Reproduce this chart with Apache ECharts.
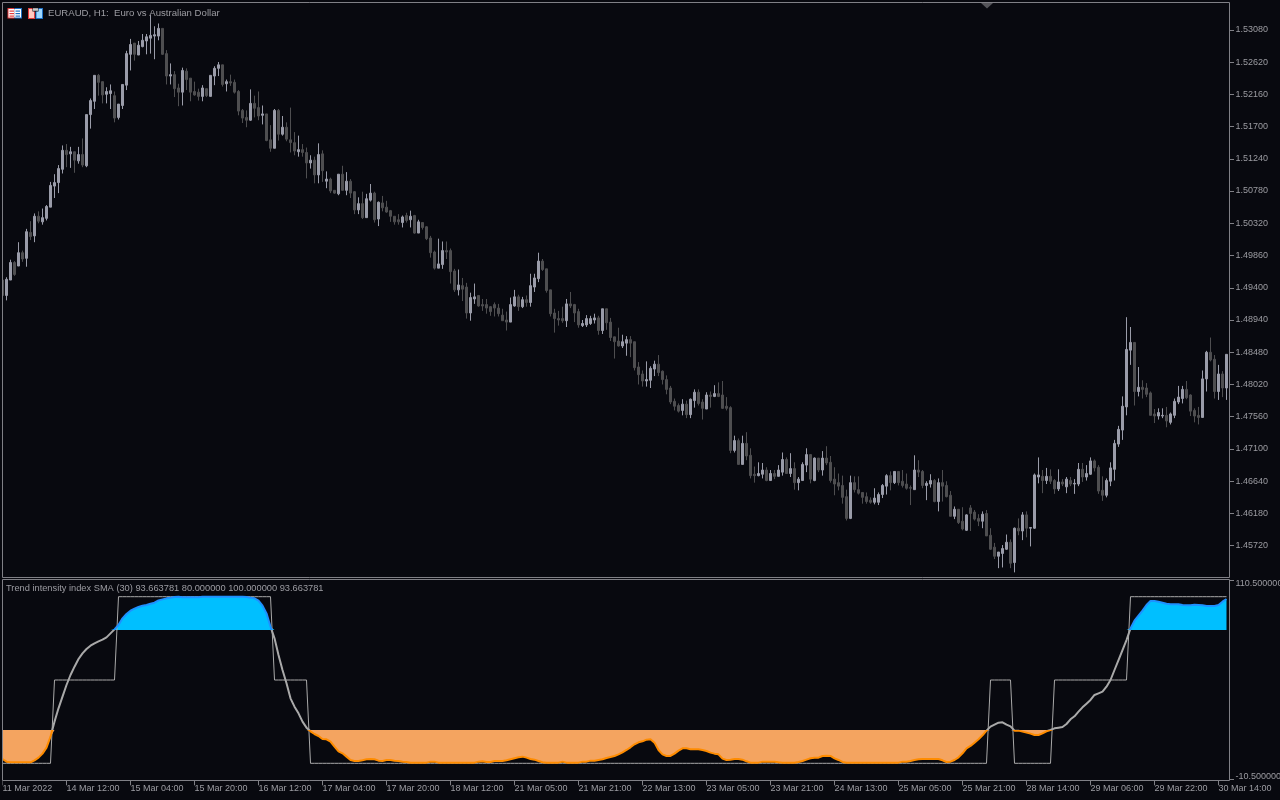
<!DOCTYPE html>
<html><head><meta charset="utf-8"><style>html,body{margin:0;padding:0;background:#08090f}#c{width:1280px;height:800px}</style>
<script src="https://cdn.jsdelivr.net/npm/echarts@6/dist/echarts.min.js"></script></head><body><div id="c"></div>
<script>
// prices in 1/10000 units
const openPips=[14951,14929,14951,14976,14971,14990,14982,15019,15014,15042,
15034,15039,15055,15085,15090,15109,15136,15131,15134,15121,
15130,15114,15187,15206,15243,15234,15216,15217,15214,15183,
15200,15229,15273,15289,15272,15284,15292,15296,15299,15299,
15310,15274,15242,15244,15225,15219,15249,15239,15220,15219,
15213,15224,15213,15242,15253,15258,15231,15234,15233,15220,
15193,15183,15179,15203,15197,15186,15188,15151,15139,15193,
15159,15169,15151,15147,15134,15137,15133,15118,15122,15101,
15131,15092,15095,15079,15074,15102,15079,15092,15077,15051,
15060,15040,15065,15075,15038,15061,15055,15050,15042,15037,
15033,15043,15037,15043,15018,15033,15027,15011,14991,14968,
14973,14993,14993,14964,14937,14943,14941,14904,14924,14929,
14916,14916,14913,14916,14911,14901,14894,14891,14914,14927,
14913,14923,14919,14941,14953,14978,14967,14937,14904,14896,
14896,14893,14917,14916,14906,14886,14887,14889,14894,14897,
14879,14910,14891,14870,14864,14857,14861,14866,14863,14827,
14817,14807,14808,14824,14831,14821,14809,14797,14778,14772,
14765,14774,14759,14779,14791,14777,14767,14787,14785,14789,
14787,14771,14769,14708,14722,14688,14718,14701,14674,14672,
14674,14680,14665,14675,14671,14677,14695,14675,14682,14662,
14665,14687,14702,14665,14697,14680,14697,14691,14667,14662,
14658,14642,14611,14662,14652,14648,14642,14637,14634,14634,
14645,14657,14672,14662,14678,14664,14660,14655,14652,14680,
14678,14658,14660,14665,14635,14662,14658,14644,14614,14624,
14607,14594,14626,14620,14611,14607,14618,14587,14570,14557,
14561,14567,14577,14548,14597,14593,14616,14597,14597,14670,
14671,14665,14671,14665,14653,14663,14656,14665,14660,14660,
14681,14670,14674,14693,14684,14651,14644,14664,14681,14717,
14737,14770,14851,14862,14792,14798,14797,14790,14760,14757,
14757,14758,14748,14758,14777,14782,14795,14787,14765,14758,
14755,14810,14848,14838,14792,14817,14797];
const closePips=[14929,14952,14976,14959,14990,14981,15020,15013,15042,15035,
15040,15056,15086,15090,15110,15136,15130,15134,15122,15130,
15115,15187,15207,15243,15233,15215,15220,15221,15182,15202,
15230,15274,15287,15273,15286,15293,15298,15300,15301,15310,
15273,15242,15244,15224,15219,15250,15237,15219,15215,15213,
15225,15214,15243,15253,15258,15230,15234,15232,15219,15192,
15182,15179,15203,15196,15185,15188,15150,15139,15193,15159,
15169,15152,15147,15135,15137,15133,15118,15122,15101,15130,
15107,15095,15078,15075,15102,15079,15092,15075,15051,15060,
15040,15067,15075,15037,15062,15054,15048,15042,15034,15034,
15041,15036,15042,15018,15034,15026,15010,14990,14968,14974,
14993,14991,14963,14937,14944,14938,14904,14926,14927,14914,
14914,14911,14906,14911,14903,14893,14891,14916,14927,14913,
14923,14919,14943,14954,14978,14966,14936,14903,14896,14894,
14893,14917,14914,14904,14887,14889,14896,14896,14897,14879,
14910,14890,14869,14863,14857,14863,14866,14861,14826,14816,
14807,14809,14825,14831,14819,14809,14795,14777,14771,14764,
14774,14759,14781,14791,14775,14768,14787,14785,14789,14785,
14768,14768,14708,14722,14688,14718,14700,14672,14672,14675,
14680,14665,14675,14671,14680,14695,14675,14682,14662,14667,
14688,14702,14667,14697,14680,14697,14690,14665,14660,14657,
14641,14611,14662,14652,14647,14641,14635,14634,14640,14645,
14658,14672,14662,14678,14662,14658,14654,14654,14680,14677,
14658,14661,14665,14635,14662,14657,14642,14614,14624,14605,
14596,14616,14618,14610,14607,14617,14586,14567,14557,14563,
14568,14577,14547,14597,14593,14616,14597,14598,14673,14673,
14665,14671,14664,14653,14663,14660,14667,14660,14661,14681,
14670,14675,14693,14683,14650,14644,14665,14683,14718,14738,
14771,14852,14862,14792,14798,14795,14788,14758,14757,14762,
14758,14750,14760,14778,14784,14795,14783,14764,14757,14755,
14810,14848,14837,14792,14817,14797,14845];
const lowPips=[14922,14922,14951,14957,14971,14977,14970,15008,15005,15032,
15030,15036,15055,15068,15075,15103,15112,15111,15104,15117,
15112,15112,15167,15195,15214,15203,15203,15195,15176,15180,
15195,15222,15250,15264,15272,15283,15273,15274,15266,15293,
15272,15230,15230,15212,15199,15200,15222,15206,15214,15207,
15206,15212,15213,15229,15242,15227,15220,15228,15217,15186,
15175,15169,15178,15183,15179,15173,15149,15134,15139,15150,
15157,15149,15133,15129,15127,15127,15096,15110,15089,15089,
15091,15082,15075,15074,15072,15079,15072,15068,15045,15045,
15038,15040,15063,15033,15028,15049,15047,15034,15030,15030,
15026,15033,15026,15017,15018,15023,15008,14983,14966,14968,
14967,14981,14946,14934,14929,14921,14896,14893,14917,14913,
14907,14903,14900,14899,14899,14893,14879,14891,14913,14907,
14911,14913,14913,14934,14948,14964,14933,14899,14876,14886,
14890,14884,14911,14891,14883,14884,14884,14887,14889,14873,
14874,14880,14864,14839,14856,14854,14843,14841,14822,14802,
14799,14799,14797,14814,14814,14802,14788,14774,14765,14762,
14758,14754,14754,14769,14772,14752,14767,14769,14784,14784,
14767,14765,14704,14705,14688,14688,14694,14668,14662,14671,
14668,14664,14665,14667,14671,14672,14675,14670,14652,14651,
14665,14677,14661,14664,14677,14672,14687,14662,14644,14651,
14632,14608,14610,14648,14645,14632,14632,14632,14631,14630,
14640,14645,14651,14660,14658,14655,14652,14630,14652,14670,
14654,14637,14655,14634,14621,14635,14641,14614,14610,14603,
14594,14593,14593,14608,14600,14597,14586,14566,14553,14540,
14541,14566,14540,14534,14587,14580,14584,14571,14596,14661,
14647,14660,14660,14646,14650,14657,14647,14657,14646,14657,
14663,14665,14673,14678,14646,14636,14641,14657,14665,14713,
14723,14758,14830,14772,14785,14782,14784,14758,14747,14752,
14754,14741,14745,14754,14774,14775,14781,14757,14748,14745,
14755,14792,14835,14782,14780,14784,14780];
const highPips=[14951,14955,14980,14978,15005,14993,15024,15035,15046,15049,
15053,15058,15091,15102,15115,15143,15145,15141,15134,15141,
15153,15187,15210,15243,15245,15234,15226,15230,15220,15202,
15230,15278,15295,15289,15292,15302,15302,15329,15313,15317,
15310,15279,15260,15249,15231,15254,15253,15239,15234,15224,
15229,15224,15243,15256,15262,15258,15237,15244,15237,15222,
15195,15193,15223,15214,15220,15200,15188,15172,15195,15195,
15185,15176,15197,15162,15157,15145,15140,15129,15127,15146,
15136,15106,15097,15079,15102,15114,15105,15095,15078,15069,
15077,15074,15088,15077,15063,15071,15064,15051,15042,15045,
15043,15047,15050,15044,15037,15033,15028,15014,14993,15010,
15006,15006,14996,14967,14966,14954,14947,14933,14946,14929,
14924,14924,14914,14919,14917,14910,14906,14926,14937,14930,
14927,14929,14960,14960,14990,14981,14967,14937,14910,14907,
14913,14924,14934,14917,14910,14894,14901,14900,14903,14900,
14910,14910,14897,14870,14883,14873,14871,14871,14863,14834,
14822,14835,14828,14836,14844,14822,14815,14800,14782,14775,
14781,14779,14782,14795,14795,14781,14791,14792,14801,14805,
14807,14784,14771,14729,14725,14729,14734,14711,14685,14691,
14690,14684,14680,14680,14687,14705,14698,14704,14691,14670,
14691,14711,14702,14698,14697,14707,14714,14700,14684,14675,
14672,14652,14672,14671,14671,14648,14648,14641,14654,14648,
14660,14674,14678,14678,14678,14680,14675,14658,14701,14694,
14680,14664,14674,14667,14668,14680,14664,14650,14628,14624,
14627,14617,14630,14623,14617,14621,14623,14597,14576,14563,
14573,14588,14581,14598,14611,14620,14621,14598,14675,14698,
14680,14683,14681,14667,14681,14667,14670,14670,14667,14690,
14690,14687,14698,14695,14687,14671,14668,14691,14723,14743,
14785,14898,14884,14862,14827,14808,14804,14792,14767,14768,
14768,14770,14762,14782,14800,14800,14807,14788,14768,14770,
14822,14850,14869,14844,14830,14821,14845];
const tii=[2.6,1,.6,.6,.6,.6,.6,.6,1.8,3.4,
5.8,9.4,16,25,33,40,47,53,58,62.6,
66,68.6,70.6,72,73.2,74.2,75.6,78,80.4,83,
87,89.6,91.6,92.8,93.8,94.6,95,95.8,96.4,97.8,
98.4,99,99.4,99.8,100,99.6,99.6,99.6,99.6,99.6,
100,100,100,100,100,100,100,100,100,100,
100,99.8,99.4,99,97.6,94.6,90,82,75,65,
56,48,39,34,30,25,21.4,19.2,17.6,16.4,
14.6,14.4,13,10,7.2,6,4,2,1.4,1.4,
1.8,2.4,2.6,2.4,1.6,1.4,2,2,1.6,1.4,
1,.8,.4,.4,.4,.4,.4,1,1,.4,
.4,.4,.4,.4,.4,.4,.4,.4,.4,1,
1.2,.8,.8,1.4,1.4,1.4,1.8,2.4,3,3.6,
4,3.4,2.6,2.2,1.4,.6,.4,.4,.4,.4,
1,.4,.4,.4,.4,1,1,1.6,1.6,2,
2.4,3.2,3.8,4.4,5.4,6.6,8,9.6,11.4,12.6,
13.2,14.2,14.4,12.4,8,5.4,4.4,4.4,5.8,7.6,
9,9,8.4,8.4,8.4,8,7.4,6.4,5.8,5.4,
2.8,2,2.2,2.6,2.6,2.2,1.2,.4,.4,.4,
1,1,1,1,.6,.4,.4,.4,.4,.8,
1.4,2.2,3,3.4,3.4,4.4,4.6,4.4,3,2,
.8,.4,.4,.4,.4,.4,.4,.4,.4,.4,
.4,.4,.4,.4,.4,1,1,1.4,2,2.4,
2.6,2.6,2.6,2.6,2.6,1.8,.8,1,2,3.6,
6,9,10.4,12.4,14.4,16.8,19.6,22,23.2,24.4,
24.6,23.2,22.2,19.6,19.6,19,18.4,17.8,17,17,
18,19.2,20,21,21.4,21.8,23.6,26.4,28.2,31,
33.6,35.8,38,41,42,43,46,50,56,62,
68,74,81,85.6,88.6,91.6,95,97.4,97.4,97,
96.4,95.8,95.4,95.4,95.4,95,94.8,94.8,95.2,95,
94.8,94.4,94.4,94.4,95,97,98.6];
const stateRuns=[[0,13],[50,16],[100,39],[50,9],[0,170],[50,6],[0,10],[50,19],[100,25]];
const tickLabels=['11 Mar 2022','14 Mar 12:00','15 Mar 04:00','15 Mar 20:00','16 Mar 12:00','17 Mar 04:00','17 Mar 20:00','18 Mar 12:00','21 Mar 05:00','21 Mar 21:00','22 Mar 13:00','23 Mar 05:00','23 Mar 21:00','24 Mar 13:00','25 Mar 05:00','25 Mar 21:00','28 Mar 14:00','29 Mar 06:00','29 Mar 22:00','30 Mar 14:00'];
const priceTicks=[1.53080,1.52620,1.52160,1.51700,1.51240,1.50780,1.50320,1.49860,1.49400,1.48940,1.48480,1.48020,1.47560,1.47100,1.46640,1.46180,1.45720];
const tiiLabels=[-10.5,110.5];
const tiiTicks=[-9.6,109.8];
const titleMain='EURAUD, H1:  Euro vs Australian Dollar';
const titleSub='Trend intensity index SMA (30) 93.663781 80.000000 100.000000 93.663781';
const LOW_LEVEL=20, HIGH_LEVEL=80;

const BG='#08090f', AX='#808086', TXT='#9c9ca2', BULL='#9a9ca9', BEAR='#4e4e50';
const FONT='"Liberation Sans",Arial,sans-serif';
const cats=openPips.map((_,i)=>String(i));
const candles=openPips.map((o,i)=>[o/1e4,closePips[i]/1e4,lowPips[i]/1e4,highPips[i]/1e4]);
const state=stateRuns.flatMap(([v,n])=>Array(n).fill(v));
const blue=tii.map(v=>Math.max(v,HIGH_LEVEL));
const orange=tii.map(v=>Math.min(v,LOW_LEVEL));
const r=(x,y,w,h,fill)=>({type:'rect',silent:true,z:110,shape:{x,y,width:w,height:h},style:{fill}});
const chart=echarts.init(document.getElementById('c'),null,{renderer:'canvas'});
chart.setOption({
 animation:false,backgroundColor:BG,
 textStyle:{fontFamily:FONT},
 title:[
  {text:titleMain,left:48,top:8,padding:0,textStyle:{color:TXT,fontSize:9.6,fontWeight:'normal',fontFamily:FONT}},
  {text:titleSub,left:6,top:584,padding:0,textStyle:{color:TXT,fontSize:9.27,fontWeight:'normal',fontFamily:FONT}}
 ],
 grid:[{left:0.5,top:3,width:1228,height:574,outerBoundsMode:'none'},{left:0.5,top:579.2,width:1228,height:201.6,outerBoundsMode:'none'}],
 xAxis:[
  {type:'category',gridIndex:0,data:cats,show:false,boundaryGap:true},
  {type:'category',gridIndex:1,data:cats,boundaryGap:true,position:'bottom',
   axisLine:{show:false,onZero:false},
   axisTick:{show:true,alignWithLabel:true,interval:15,length:4.5,lineStyle:{color:AX}},
   axisLabel:{show:true,interval:15,margin:3,align:'left',color:TXT,fontSize:9,fontFamily:FONT,
     formatter:(v,i)=>tickLabels[Math.round(i/16)]||''},
   splitLine:{show:false}}
 ],
 yAxis:[
  {type:'value',gridIndex:0,position:'right',offset:1,scale:true,min:1.45274,max:1.53462,
   axisLine:{show:false},splitLine:{show:false},
   axisTick:{show:true,length:4.5,customValues:priceTicks,lineStyle:{color:AX}},
   axisLabel:{show:true,customValues:priceTicks,margin:6,color:TXT,fontSize:9,fontFamily:FONT,formatter:v=>v.toFixed(5)}},
  {type:'value',gridIndex:1,position:'right',offset:1,min:-10.5,max:110.5,
   axisLine:{show:false},splitLine:{show:false},
   axisTick:{show:true,length:4.5,customValues:tiiTicks,lineStyle:{color:AX}},
   axisLabel:{show:true,customValues:tiiLabels,margin:6,color:TXT,fontSize:9,fontFamily:FONT,
     verticalAlignMinLabel:'bottom',verticalAlignMaxLabel:'top',formatter:v=>v.toFixed(6)}}
 ],
 visualMap:[{type:'piecewise',show:false,seriesIndex:4,dimension:1,
   pieces:[{lt:LOW_LEVEL,color:'#ff8c00'},{gte:LOW_LEVEL,lte:HIGH_LEVEL,color:'#a9a9a9'},{gt:HIGH_LEVEL,color:'#1e90ff'}]}],
 series:[
  {type:'candlestick',xAxisIndex:0,yAxisIndex:0,data:candles,barWidth:2,clip:true,
   itemStyle:{color:BULL,color0:BEAR,borderColor:BULL,borderColor0:BEAR,borderWidth:1}},
  {type:'line',xAxisIndex:1,yAxisIndex:1,data:blue,symbol:'none',silent:true,lineStyle:{width:0},
   areaStyle:{color:'#00bfff',opacity:1,origin:HIGH_LEVEL},z:2},
  {type:'line',xAxisIndex:1,yAxisIndex:1,data:orange,symbol:'none',silent:true,lineStyle:{width:0},
   areaStyle:{color:'#f4a460',opacity:1,origin:LOW_LEVEL},z:2},
  {type:'line',xAxisIndex:1,yAxisIndex:1,data:state,symbol:'none',silent:true,
   lineStyle:{width:1,color:'#a9a9a9'},z:3},
  {type:'line',xAxisIndex:1,yAxisIndex:1,data:tii,symbol:'none',silent:true,
   lineStyle:{width:2},z:4}
 ],
 graphic:[
  r(0,0,2.5,800,BG),
  {type:'rect',silent:true,z:111,shape:{x:2.5,y:2.5,width:1227,height:575},style:{fill:'none',stroke:AX,lineWidth:1}},
  {type:'rect',silent:true,z:111,shape:{x:2.5,y:579.5,width:1227,height:201},style:{fill:'none',stroke:AX,lineWidth:1}},
  {type:'polygon',silent:true,z:112,shape:{points:[[981,3],[993,3],[987,8.5]]},style:{fill:'#55555a'}},
  // window icons
  r(7.5,8,7,10.5,'#e03a3a'),r(14.5,8,7.5,10.5,'#1c6fc4'),
  r(8.5,9,6,8.5,'#ffffff'),r(14.5,9,6.5,8.5,'#ffffff'),
  r(9.5,10.5,4.5,1.2,'#e03a3a'),r(9.5,13,4.5,1.2,'#e03a3a'),r(9.5,15.5,4.5,1.2,'#e03a3a'),
  r(15.5,10.5,4.5,1.2,'#1c6fc4'),r(15.5,13,4.5,1.2,'#1c6fc4'),r(15.5,15.5,4.5,1.2,'#1c6fc4'),
  r(28,8,7,11,'#e03a3a'),r(35.5,8,7.5,11,'#1c6fc4'),
  r(29,9,5,9,'#ffc8c0'),r(36.5,9,5.5,9,'#9ed8ff'),
  r(32.5,8,6,3.5,BG),r(33,8.2,5,2.6,'#c8c8c8')
 ]
});
</script></body></html>
